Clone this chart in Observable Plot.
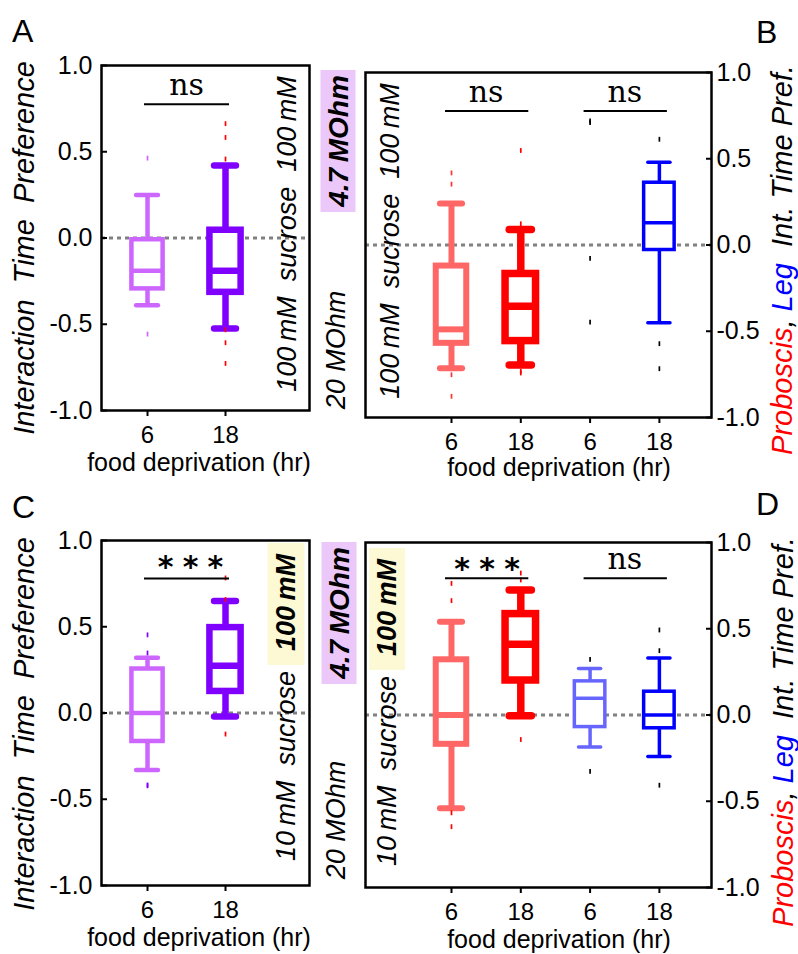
<!DOCTYPE html>
<html>
<head>
<meta charset="utf-8">
<script src="https://cdn.jsdelivr.net/npm/d3@7"></script>
<script src="https://cdn.jsdelivr.net/npm/@observablehq/plot@0.6"></script>
<style>
  body { margin: 0; background: #ffffff; }
  #root { position: relative; width: 798px; height: 954px; overflow: hidden; background: #ffffff;
          font-family: "Liberation Sans", Arial, sans-serif; color: #000; }
  #root svg { position: absolute; overflow: visible; }
  .lbl { position: absolute; white-space: pre; line-height: 1; font-style: italic;
         transform: translate(-50%, -50%) rotate(-90deg); }
  .letter { position: absolute; font-size: 32px; line-height: 1; }
  .hl { display: inline-block; }
</style>
</head>
<body>
<div id="root"></div>
<script>
// ---------------- DATA ----------------
const yTicks = [-1, -0.5, 0, 0.5, 1];

// Panel A : 100 mM vs 100 mM sucrose, interaction time preference
const A_group = [1, 2];
const A_hours = ["6", "18"];
const A_whiskerHigh = [0.25, 0.42];
const A_q3 = [-0.01, 0.045];
const A_median = [-0.19, -0.19];
const A_q1 = [-0.295, -0.315];
const A_whiskerLow = [-0.39, -0.525];
const A_outliers = [[0.46, -0.56], [0.66, 0.58, 0.455, -0.535, -0.61, -0.73]];
const A_sigFrom = [1], A_sigTo = [2], A_sigY = [0.776], A_sigText = ["ns"];

// Panel B : proboscis / leg, 100 mM vs 100 mM
const B_group = [1, 2, 3, 4];
const B_hours = ["6", "18", "6", "18"];
const B_whiskerHigh = [0.24, 0.09, null, 0.48];
const B_q3 = [-0.122, -0.168, null, 0.361];
const B_median = [-0.489, -0.355, null, 0.129];
const B_q1 = [-0.57, -0.557, null, -0.029];
const B_whiskerLow = [-0.715, -0.696, null, -0.45];
const B_outliers = [[0.415, 0.35, -0.755, -0.88], [0.545, 0.12, -0.735, -0.745], [0.716, 0.707, -0.08, -0.45], [0.61, -0.575, -0.72]];
const B_sigFrom = [1, 3], B_sigTo = [2, 4], B_sigY = [0.777, 0.777], B_sigText = ["ns", "ns"];

// Panel C : 10 mM vs 100 mM sucrose, interaction time preference
const C_group = [1, 2];
const C_hours = ["6", "18"];
const C_whiskerHigh = [0.32, 0.65];
const C_q3 = [0.255, 0.495];
const C_median = [0.0, 0.274];
const C_q1 = [-0.165, 0.125];
const C_whiskerLow = [-0.33, -0.02];
const C_outliers = [[0.45, 0.345, -0.42, -0.425], [0.78, 0.655, -0.125]];
const C_sigFrom = [1], C_sigTo = [2], C_sigY = [0.779], C_sigText = ["***"];

// Panel D : proboscis / leg, 10 mM vs 100 mM
const D_group = [1, 2, 3, 4];
const D_hours = ["6", "18", "6", "18"];
const D_whiskerHigh = [0.54, 0.725, 0.27, 0.33];
const D_q3 = [0.32, 0.585, 0.195, 0.135];
const D_median = [0.0, 0.41, 0.097, 0.0];
const D_q1 = [-0.17, 0.2, -0.07, -0.077];
const D_whiskerLow = [-0.54, -0.005, -0.185, -0.24];
const D_outliers = [[0.76, 0.66, -0.57, -0.65], [0.82, 0.78, -0.145], [0.32, -0.33], [0.49, 0.37, -0.41]];
const D_sigFrom = [1, 3], D_sigTo = [2, 4], D_sigY = [0.793, 0.793], D_sigText = ["***", "ns"];

// ---------------- STYLES ----------------
const purpleStyle = {colors: ["#cc66ff", "#8000ff"], widths: [4.5, 6.5]};
const probLegStyle = {colors: ["#ff6666", "#ff0000", "#6666ff", "#0000ff"], widths: [6, 7.5, 3.5, 3.5]};
const STAR_SPACING = 9.25;

const root = document.getElementById("root");

function drawPanel(o) {
  const rows = o.group.map((g, i) => ({g, i, lo: o.lo[i], q1: o.q1[i], med: o.med[i], q3: o.q3[i], hi: o.hi[i]}))
                      .filter(d => d.med != null);
  const outs = o.group.flatMap((g, i) => o.outliers[i].map(v => ({g, i, v})));
  const sig = o.sigFrom.map((f, k) => ({from: f, to: o.sigTo[k], y: o.sigY[k], text: o.sigText[k]}));
  const s = o.style;
  const stroke = d => s.colors[d.i];
  const sw = d => s.widths[d.i];
  const right = s.axis === "right";
  const svg = Plot.plot({
    width: s.width, height: s.height,
    marginLeft: s.ml, marginRight: s.mr, marginTop: s.mt, marginBottom: s.mb,
    x: {domain: s.xDomain, axis: null},
    y: {domain: [-1, 1], axis: null},
    color: {type: "identity"},
    style: {fontFamily: "'Liberation Sans', Arial, sans-serif", fontSize: "24px", color: "black", background: "transparent", overflow: "visible"},
    marks: [
      Plot.ruleY([0], {stroke: "#808080", strokeWidth: 3, strokeDasharray: "4,4"}),
      // whiskers
      Plot.ruleX(rows, {x: "g", y1: "q3", y2: "hi", stroke, strokeWidth: sw}),
      Plot.ruleX(rows, {x: "g", y1: "lo", y2: "q1", stroke, strokeWidth: sw}),
      // whisker caps
      Plot.ruleY(rows, {y: "hi", x1: d => d.g - s.capHalf, x2: d => d.g + s.capHalf, stroke, strokeWidth: sw, strokeLinecap: "round"}),
      Plot.ruleY(rows, {y: "lo", x1: d => d.g - s.capHalf, x2: d => d.g + s.capHalf, stroke, strokeWidth: sw, strokeLinecap: "round"}),
      // boxes
      Plot.rect(rows, {x1: d => d.g - s.boxHalf, x2: d => d.g + s.boxHalf, y1: "q1", y2: "q3", fill: "white", stroke, strokeWidth: sw}),
      Plot.ruleY(rows, {y: "med", x1: d => d.g - s.boxHalf, x2: d => d.g + s.boxHalf, stroke, strokeWidth: sw}),
      // outliers (small vertical ticks)
      Plot.ruleX(outs, {x: "g", y1: d => d.v - 0.014, y2: d => d.v + 0.014, stroke: d => s.outColors[d.i], strokeWidth: 1.7}),
      // significance bars
      Plot.ruleY(sig, {y: "y", x1: "from", x2: "to", insetLeft: s.sigInsetL, insetRight: s.sigInsetR, stroke: "black", strokeWidth: 2}),
      Plot.text(sig, {filter: d => d.text === "ns", x: d => (d.from + d.to) / 2, y: "y", text: "text", lineAnchor: "bottom", dy: -9,
                      fontFamily: "'DejaVu Serif', serif", fontSize: 30, fill: "black"}),
      Plot.text(sig, {filter: d => d.text !== "ns", x: d => (d.from + d.to) / 2, y: "y", text: "text", lineAnchor: "bottom",
                      dy: s.starDy, dx: s.starDx + STAR_SPACING / 2,
                      fontFamily: "'DejaVu Sans', sans-serif", fontSize: 30, fontWeight: "bold", fill: "black"}),
      Plot.frame({stroke: "black", strokeWidth: 2.5}),
      // axes
      Plot.axisX(o.group, {tickSize: 6, tickPadding: 9, tickFormat: g => o.hours[g - 1], fontSize: 24, strokeWidth: 2, label: null}),
      Plot.axisY(yTicks, {anchor: right ? "right" : "left", tickSize: 6, dx: right ? -6 : 6, tickFormat: () => "", strokeWidth: 2, label: null}),
      Plot.axisY(yTicks, {anchor: right ? "right" : "left", tickSize: 0, tickPadding: right ? 5 : 9, tickFormat: d => d.toFixed(1), fontSize: 25, label: null}),
      Plot.text(["food deprivation (hr)"], {text: d => d, frameAnchor: "bottom", lineAnchor: "bottom", dy: s.xlabDy, dx: s.xlabDx, fontSize: 25, fill: "black"})
    ]
  });
  d3.select(svg).selectAll("text").filter(function () { return this.textContent === "***"; })
    .attr("letter-spacing", STAR_SPACING);
  svg.style.left = s.left + "px";
  svg.style.top = s.top + "px";
  root.appendChild(svg);
}

const leftGeom = {width: 360, ml: 101, mr: 51, xDomain: [0.41, 3.077], boxHalf: 0.2, capHalf: 0.14, sigInsetL: -3, sigInsetR: -4, xlabDx: -6.5, starDx: 4};
const rightGeom = {width: 438, ml: 5, mr: 87, xDomain: [-0.241, 4.752], boxHalf: 0.22, capHalf: 0.16, sigInsetL: -6, sigInsetR: -8, xlabDx: 20.5, starDx: 1, axis: "right"};

drawPanel({group: A_group, hours: A_hours, hi: A_whiskerHigh, q3: A_q3, med: A_median, q1: A_q1, lo: A_whiskerLow, outliers: A_outliers,
  sigFrom: A_sigFrom, sigTo: A_sigTo, sigY: A_sigY, sigText: A_sigText,
  style: {...leftGeom, ...purpleStyle, outColors: ["#cc66ff", "#ff0000"], left: 0, top: 0, height: 480, mt: 65, mb: 70, xlabDy: 60, starDy: -2}});

drawPanel({group: B_group, hours: B_hours, hi: B_whiskerHigh, q3: B_q3, med: B_median, q1: B_q1, lo: B_whiskerLow, outliers: B_outliers,
  sigFrom: B_sigFrom, sigTo: B_sigTo, sigY: B_sigY, sigText: B_sigText,
  style: {...rightGeom, ...probLegStyle, outColors: ["#ff3333", "#ff0000", "#000000", "#000000"], left: 360, top: 0, height: 480, mt: 72, mb: 63, xlabDy: 58, starDy: 1}});

drawPanel({group: C_group, hours: C_hours, hi: C_whiskerHigh, q3: C_q3, med: C_median, q1: C_q1, lo: C_whiskerLow, outliers: C_outliers,
  sigFrom: C_sigFrom, sigTo: C_sigTo, sigY: C_sigY, sigText: C_sigText,
  style: {...leftGeom, ...purpleStyle, outColors: ["#8000ff", "#ff0000"], left: 0, top: 480, height: 474, mt: 60, mb: 69, xlabDy: 60, starDy: -2}});

drawPanel({group: D_group, hours: D_hours, hi: D_whiskerHigh, q3: D_q3, med: D_median, q1: D_q1, lo: D_whiskerLow, outliers: D_outliers,
  sigFrom: D_sigFrom, sigTo: D_sigTo, sigY: D_sigY, sigText: D_sigText,
  style: {...rightGeom, ...probLegStyle, outColors: ["#ff0000", "#ff0000", "#000000", "#000000"], left: 360, top: 480, height: 474, mt: 62, mb: 67, xlabDy: 60, starDy: 1}});

// ---------------- ANNOTATIONS ----------------
function rot(html, cx, cy, css) {
  const d = document.createElement("div");
  d.className = "lbl";
  d.style.left = cx + "px";
  d.style.top = cy + "px";
  d.innerHTML = html;
  Object.assign(d.style, css || {});
  root.appendChild(d);
  return d;
}
function letter(t, x, y) {
  const d = document.createElement("div");
  d.className = "letter";
  d.style.left = x + "px";
  d.style.top = y + "px";
  d.textContent = t;
  root.appendChild(d);
}
letter("A", 12, 15); letter("B", 756, 16); letter("C", 12, 491); letter("D", 756, 488);

const yTitle = "Interaction  Time  Preference";
const rightTitle = '<span style="color:#ff0000">Proboscis</span>, <span style="color:#0000ff">Leg</span>  Int. Time Pref.';
const purpleBox = {fontWeight: "bold", fontSize: "28px", background: "#ecc8fa", width: "142px", height: "35px", lineHeight: "35px", textAlign: "center"};

// Panel A
rot(yTitle, 24, 248, {fontSize: "29px"});
rot("100\u2009mM  sucrose  100\u2009mM", 287, 234, {fontSize: "27px"});
rot("4.7\u2009MOhm", 337.5, 141, purpleBox);
rot("20 MOhm", 336, 350, {fontSize: "27px"});
// Panel B
rot("100\u2009mM  sucrose  100\u2009mM", 390, 241, {fontSize: "27px"});
rot(rightTitle, 782, 260, {fontSize: "29px"});
// Panel C
rot(yTitle, 24, 724, {fontSize: "29px"});
rot('10\u2009mM  sucrose<span class="hl" style="font-weight:bold;background:#fcf9d4;margin-left:6px;padding:0 11px 0 14px;">100\u2009mM</span>',
    286, 702, {fontSize: "27px", lineHeight: "37px"});
rot("4.7\u2009MOhm", 338.7, 612.5, purpleBox);
rot("20 MOhm", 336, 819.5, {fontSize: "27px"});
// Panel D
rot('10\u2009mM  sucrose<span class="hl" style="font-weight:bold;background:#fcf9d4;margin-left:6px;padding:0 11px 0 14px;">100\u2009mM</span>',
    387, 706.5, {fontSize: "27px", lineHeight: "36px"});
rot(rightTitle, 783, 731.7, {fontSize: "29px"});
</script>
</body>
</html>
